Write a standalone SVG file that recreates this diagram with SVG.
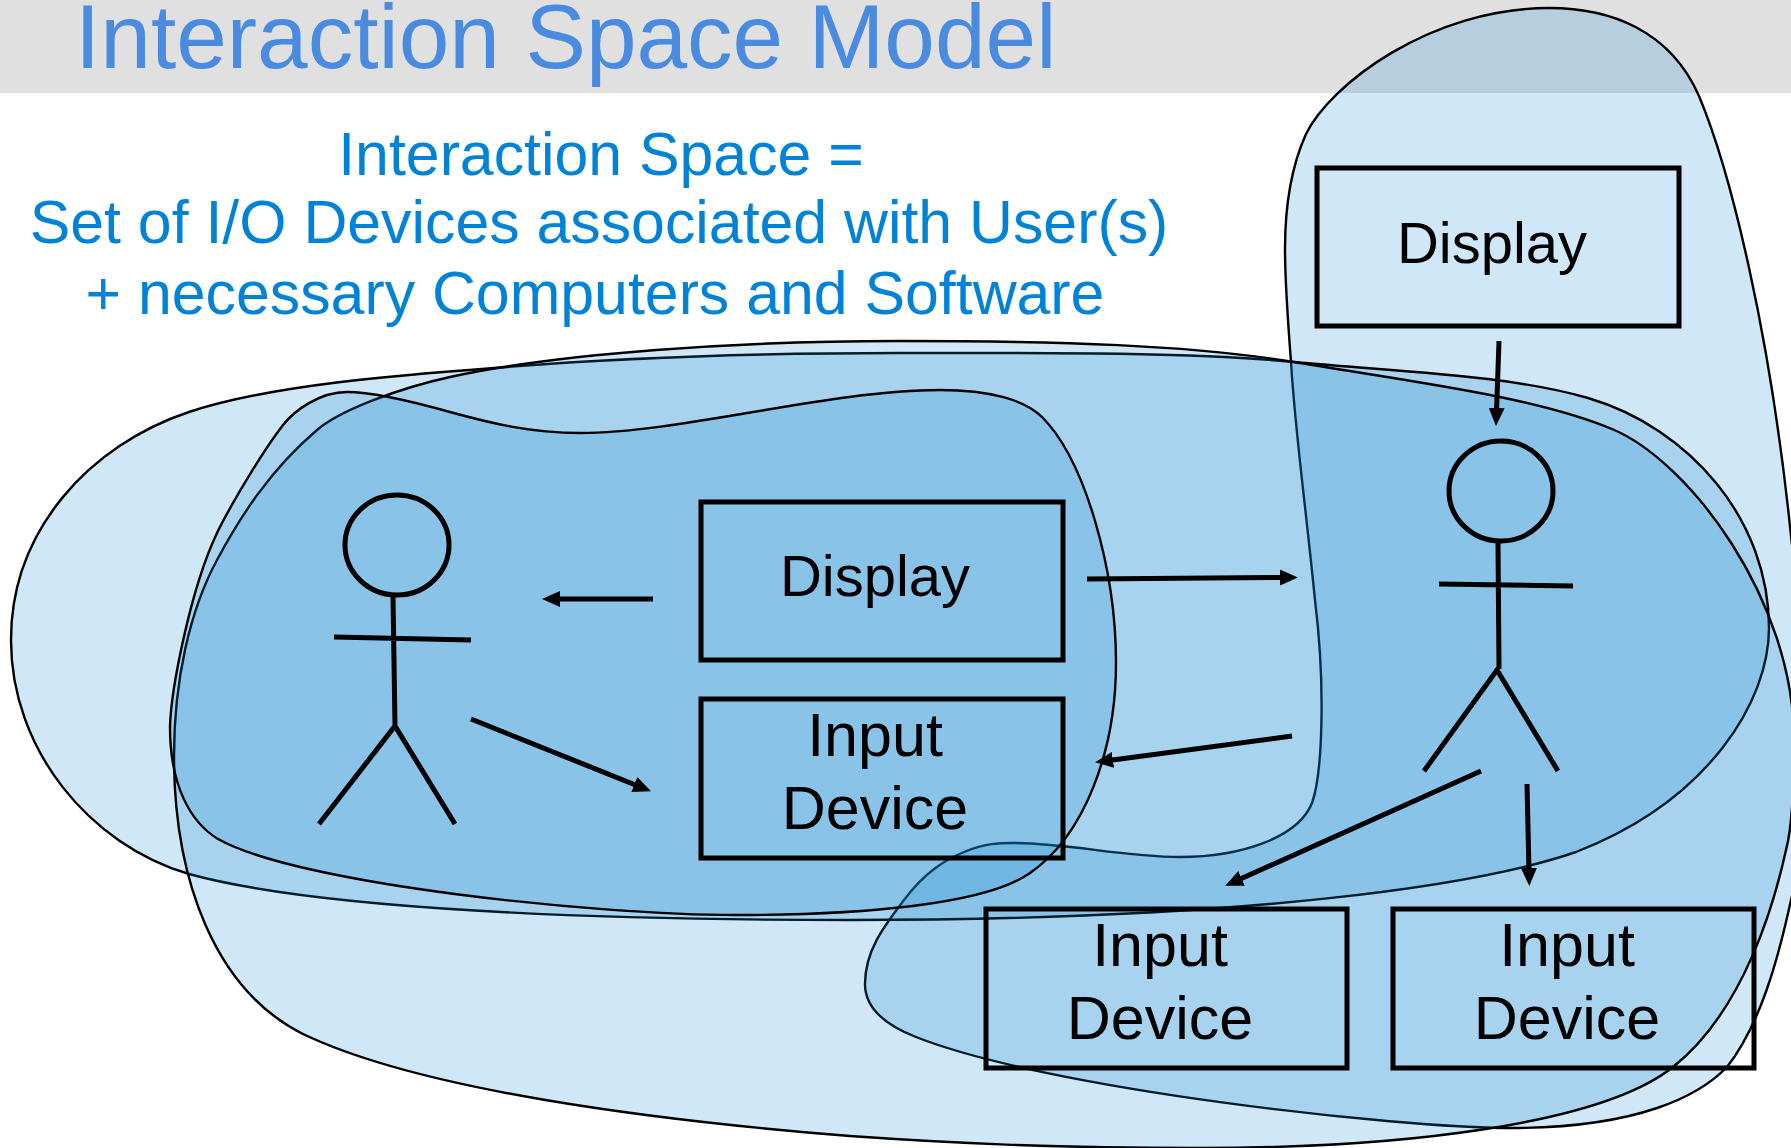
<svg xmlns="http://www.w3.org/2000/svg" width="1791" height="1148" viewBox="0 0 1791 1148">
<style>
text{font-family:"Liberation Sans",Arial,sans-serif}
.blob{fill:#0F86D2;fill-opacity:.2;stroke:#000;stroke-width:2.4}
.box{fill:none;stroke:#000;stroke-width:5}
.lbl{font-size:58px;fill:#000;text-anchor:middle}
.dev{font-size:61px;fill:#000;text-anchor:middle}
.sub{font-size:60.8px;fill:#0083D6;text-anchor:middle}
.fig{fill:none;stroke:#000;stroke-width:5}
.arr{stroke:#000;stroke-width:5;fill:none;marker-end:url(#ah)}
</style>
<defs>
<marker id="ah" markerUnits="userSpaceOnUse" markerWidth="18" markerHeight="16" refX="4" refY="8" orient="auto"><path d="M0 0L18 8L0 16Z" fill="#000"/></marker>
</defs>
<rect width="1791" height="1148" fill="#fff"/>
<rect id="title-bar" width="1791" height="93" fill="#E0E0E0"/>
<text id="title" x="75" y="68" font-size="91" fill="#4A8BE0">Interaction Space Model</text>
<g id="subtitle">
<text class="sub" x="601" y="175">Interaction Space =</text>
<text class="sub" x="599" y="243">Set of I/O Devices associated with User(s)</text>
<text class="sub" x="595" y="314">+ necessary Computers and Software</text>
</g>
<g id="spaces">
<path id="space-d" class="blob" d="M1549 8C1610 8 1670 30 1699 96C1730 170 1770 330 1791 536C1808 680 1810 830 1791 900C1778 960 1760 1025 1727 1067C1700 1095 1640 1128 1510 1128C1400 1128 1050 1090 916 1037C880 1023 865 1005 865 984C865 950 885 925 904 900C925 872 945 860 964 852C985 843 1000 843 1012 843C1070 843 1120 857 1180 857C1240 857 1298 838 1312 803C1322 775 1326 690 1315 600C1305 500 1295 430 1291 362C1287 310 1285 280 1285 249C1285 200 1292 165 1306 134C1330 85 1430 8 1549 8Z"/>
<path id="space-a" class="blob" d="M11 640C11 530 90 445 189 412C270 385 400 375 494 368C640 356 790 353 900 353C1050 353 1190 352 1294 362C1400 372 1510 375 1588 398C1690 428 1769 520 1769 628C1769 700 1710 800 1576 852C1480 885 1250 920 850 920C600 920 320 910 189 874C90 845 11 750 11 640Z"/>
<path id="space-b" class="blob" d="M174 756C174 680 190 610 217 560C240 517 270 470 317 430C340 410 400 388 450 377C560 353 740 341 900 341C1060 341 1190 345 1294 362C1420 383 1535 397 1612 429C1689 461 1794 600 1794 740C1794 800 1790 835 1786 850C1775 900 1745 1010 1673 1067C1600 1125 1400 1148 1200 1148C1050 1148 950 1143 850 1136C650 1120 420 1090 303 1034C215 990 174 880 174 756Z"/>
<path id="space-e" class="blob" d="M170 727C171 690 190 590 217 533C228 510 260 455 283 425C295 410 320 392 347 392C370 392 400 398 450 412C490 423 530 433 580 433C680 433 830 390 940 390C990 390 1025 400 1042 417C1085 460 1116 570 1116 663C1116 750 1085 835 1030 873C985 905 860 915 735 915C600 915 300 885 218 839C190 822 170 785 170 727Z"/>
</g>
<g id="display-left"><rect class="box" x="701" y="502" width="362" height="158"/><text class="lbl" x="875" y="596">Display</text></g>
<g id="input-left"><rect class="box" x="701" y="699" width="362" height="159"/><text class="dev" x="875" y="756">Input</text><text class="dev" x="875" y="829">Device</text></g>
<g id="display-right"><rect class="box" x="1317" y="168" width="362" height="158"/><text class="lbl" x="1492" y="263">Display</text></g>
<g id="input-mid"><rect class="box" x="986" y="909" width="361" height="159"/><text class="dev" x="1160" y="966">Input</text><text class="dev" x="1160" y="1039">Device</text></g>
<g id="input-right"><rect class="box" x="1393" y="909" width="361" height="159"/><text class="dev" x="1567" y="966">Input</text><text class="dev" x="1567" y="1039">Device</text></g>
<g id="user-left" class="fig"><ellipse cx="397" cy="545" rx="52" ry="50"/><path d="M393 597L395 726M334 637L471 640M319 824L395 726L455 824"/></g>
<g id="user-right" class="fig"><ellipse cx="1501" cy="491" rx="52" ry="50"/><path d="M1498 542L1499 669M1439 584L1573 586M1424 771L1497 670L1558 771"/></g>
<g id="connectors">
<line class="arr" x1="653" y1="599" x2="556" y2="599"/>
<line class="arr" x1="471" y1="719" x2="638" y2="786"/>
<line class="arr" x1="1087" y1="579" x2="1284" y2="577.5"/>
<line class="arr" x1="1292" y1="736" x2="1109" y2="760.4"/>
<line class="arr" x1="1499" y1="341" x2="1496.5" y2="412"/>
<line class="arr" x1="1481" y1="771" x2="1238" y2="880"/>
<line class="arr" x1="1527" y1="784" x2="1529" y2="872"/>
</g>
</svg>
